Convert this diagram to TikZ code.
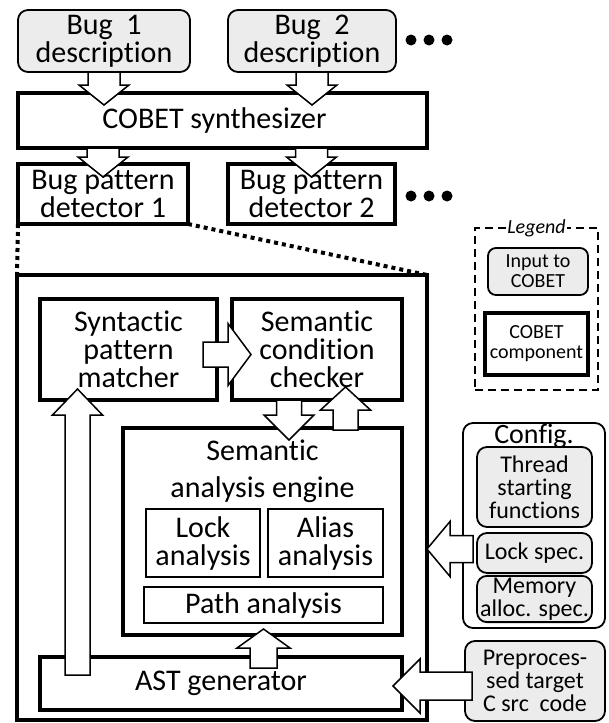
\documentclass[tikz,border=0pt]{standalone}
\usepackage{fontspec}
\setmainfont{Carlito}[Ligatures={NoCommon}]
\usetikzlibrary{calc}
\usetikzlibrary{positioning}
\tikzset{>=latex}
\definecolor{inputgray}{RGB}{236,236,236}

% block arrow: from, to, shaft half width, head half width, head length
\newcommand{\fatarrow}[5]{%
  \draw[fat arrow] let \p1=#1, \p2=#2,
      \n1={atan2(\y2-\y1,\x2-\x1)}, \n2={veclen(\x2-\x1,\y2-\y1)} in
    ($(\p1)+({\n1+90}:#3)$) -- ($(\p1)+(\n1:{\n2-#5})+({\n1+90}:#3)$)
    -- ($(\p1)+(\n1:{\n2-#5})+({\n1+90}:#4)$) -- (\p2)
    -- ($(\p1)+(\n1:{\n2-#5})+({\n1-90}:#4)$)
    -- ($(\p1)+(\n1:{\n2-#5})+({\n1-90}:#3)$)
    -- ($(\p1)+({\n1-90}:#3)$) -- cycle;}

\begin{document}
\begin{tikzpicture}[x=1pt, y=-1pt]
            \tikzset{component/.style={draw, line width=4pt, fill=white, align=center,
                inner sep=2pt, outer sep=0pt, font=\fontsize{30}{28}\selectfont}}
            \tikzset{analysis/.style={component, line width=1.8pt}}
            \tikzset{input/.style={draw, line width=1.8pt, rounded corners=10pt, fill=inputgray,
                align=center, inner sep=2pt, outer sep=0pt, font=\fontsize{30}{28}\selectfont}}
            \tikzset{config item/.style={input, font=\fontsize{24}{23}\selectfont}}
            \tikzset{fat arrow/.style={draw, fill=white, line width=1.5pt, line join=miter}}
            \tikzset{zoom line/.style={line width=4pt, dash pattern=on 4pt off 4pt}}
            \useasboundingbox (0,0) rectangle (608,723);

            % inputs and synthesizer
            \node[input, minimum width=172pt, minimum height=62pt] (bug1) at (104,41) {Bug\ \ 1\\description};
            \node[input, minimum width=168pt, minimum height=62pt] (bug2) at (312,41) {Bug\ \ 2\\description};
            \node[component, minimum width=409pt, minimum height=55pt] (synth) at (222.5,120.5) {COBET synthesizer\hspace*{16pt}};
            \node[component, minimum width=170pt, minimum height=60pt] (det1) at (103,194) {Bug pattern\\detector 1};
            \node[component, minimum width=167pt, minimum height=60pt] (det2) at (311.5,194) {Bug pattern\\detector 2};
            \foreach \x in {411, 429, 447} {
                \fill (\x,40) circle [radius=5.5];
                \fill (\x,196) circle [radius=5.5];
            }

            % detector internals
            \node[component, line width=3.5pt, minimum width=410pt, minimum height=445pt] (outer) at (222,497.5) {};
            \draw[zoom line] (det1.south west) -- (outer.north west);
            \draw[zoom line] (det1.south east) -- (outer.north east);
            \node[component, minimum width=177pt, minimum height=101pt] (syn) at (128.5,349.5) {Syntactic\\pattern\\matcher};
            \node[component, minimum width=170pt, minimum height=101pt] (chk) at (317,349.5) {Semantic\\condition\\checker};
            \node[component, minimum width=279pt, minimum height=207pt] (engine) at (262.5,531.5) {};
            \node[align=center, inner sep=2pt, font=\fontsize{30}{28}\selectfont, below=10pt of engine.north] (enginetitle) {Semantic\\[9pt]analysis engine};
            \node[analysis, minimum width=114pt, minimum height=68pt] (lock) at (203,543) {Lock\\analysis};
            \node[analysis, minimum width=115pt, minimum height=68pt] (alias) at (325.5,543) {Alias\\analysis};
            \node[analysis, minimum width=239pt, minimum height=36pt] (path) at (263.5,605) {Path analysis};
            \node[component, minimum width=362pt, minimum height=53pt] (ast) at (221,683.5) {AST generator};

            % configuration and target code
            \node[draw, line width=1.8pt, rounded corners=10pt, fill=white, outer sep=0pt,
                minimum width=142pt, minimum height=205pt] (config) at (534,525.5) {};
            \node[config item, minimum width=115pt, minimum height=80pt] (thread) at (534.5,487) {Thread\\starting\\functions};
            \node[config item, minimum width=115pt, minimum height=40pt] (lockspec) at (534.5,553) {Lock spec.};
            \node[config item, minimum width=115pt, minimum height=38pt] (memspec) at (534.5,599) {Memory\\alloc. spec.};
            \node[anchor=base, inner sep=0pt, font=\fontsize{28}{28}\selectfont] (configtitle) at ($(config.north)+(0,20.5)$) {Config.};
            \node[config item, minimum width=140pt, minimum height=80pt] (prep) at (535,681) {Preproces-\\sed target\\C src\ \ code};

            % legend
            \node[draw, line width=1.8pt, dash pattern=on 8pt off 5pt, outer sep=0pt,
                minimum width=123pt, minimum height=162pt] (legend) at (536.5,309) {};
            \node[fill=white, inner sep=1pt, font=\fontsize{20}{20}\selectfont\itshape] (legendtitle) at (legend.north) {Legend};
            \node[input, rounded corners=8pt, font=\fontsize{20}{20}\selectfont,
                minimum width=100pt, minimum height=47pt] (legin) at (538,271.5) {Input to\\COBET};
            \node[component, font=\fontsize{20}{20}\selectfont,
                minimum width=103pt, minimum height=62pt] (legcomp) at (536.5,344) {COBET\\component};

            % block arrows
            \fatarrow{(bug1.south)}{($(bug1.south)+(0,33)$)}{16pt}{25pt}{20pt}
            \fatarrow{(bug2.south)}{($(bug2.south)+(0,33)$)}{16pt}{25pt}{20pt}
            \fatarrow{(synth.south -| det1.north)}{($(det1.north)+(0,13)$)}{16pt}{25pt}{20pt}
            \fatarrow{(synth.south -| det2.north)}{($(det2.north)+(0,13)$)}{16pt}{25pt}{20pt}
            \fatarrow{($(syn.east)+(-14,5)$)}{($(chk.west)+(19,5)$)}{12.5pt}{31pt}{23pt}
            \fatarrow{($(chk.south)+(-28,0)$)}{($(engine.north)+(26.5,12)$)}{12.5pt}{25pt}{25pt}
            \fatarrow{($(engine.north)+(83,2)$)}{($(chk.south)+(28.5,-13)$)}{12.5pt}{25pt}{23pt}
            \fatarrow{($(ast.north -| syn.south)+(-51,18)$)}{($(syn.south)+(-51,-11)$)}{12.5pt}{25pt}{26pt}
            \fatarrow{($(ast.north -| path.south)+(0,11)$)}{($(engine.south -| path.south)+(0,-6)$)}{13.5pt}{26.5pt}{19pt}
            \fatarrow{($(lockspec.west)+(-4,-4)$)}{($(outer.east |- lockspec.west)+(0,-4)$)}{13.5pt}{27.5pt}{23pt}
            \fatarrow{($(prep.west)+(7,5)$)}{($(ast.east)+(-9,2.5)$)}{14pt}{27pt}{27pt}
        \end{tikzpicture}
\end{document}
